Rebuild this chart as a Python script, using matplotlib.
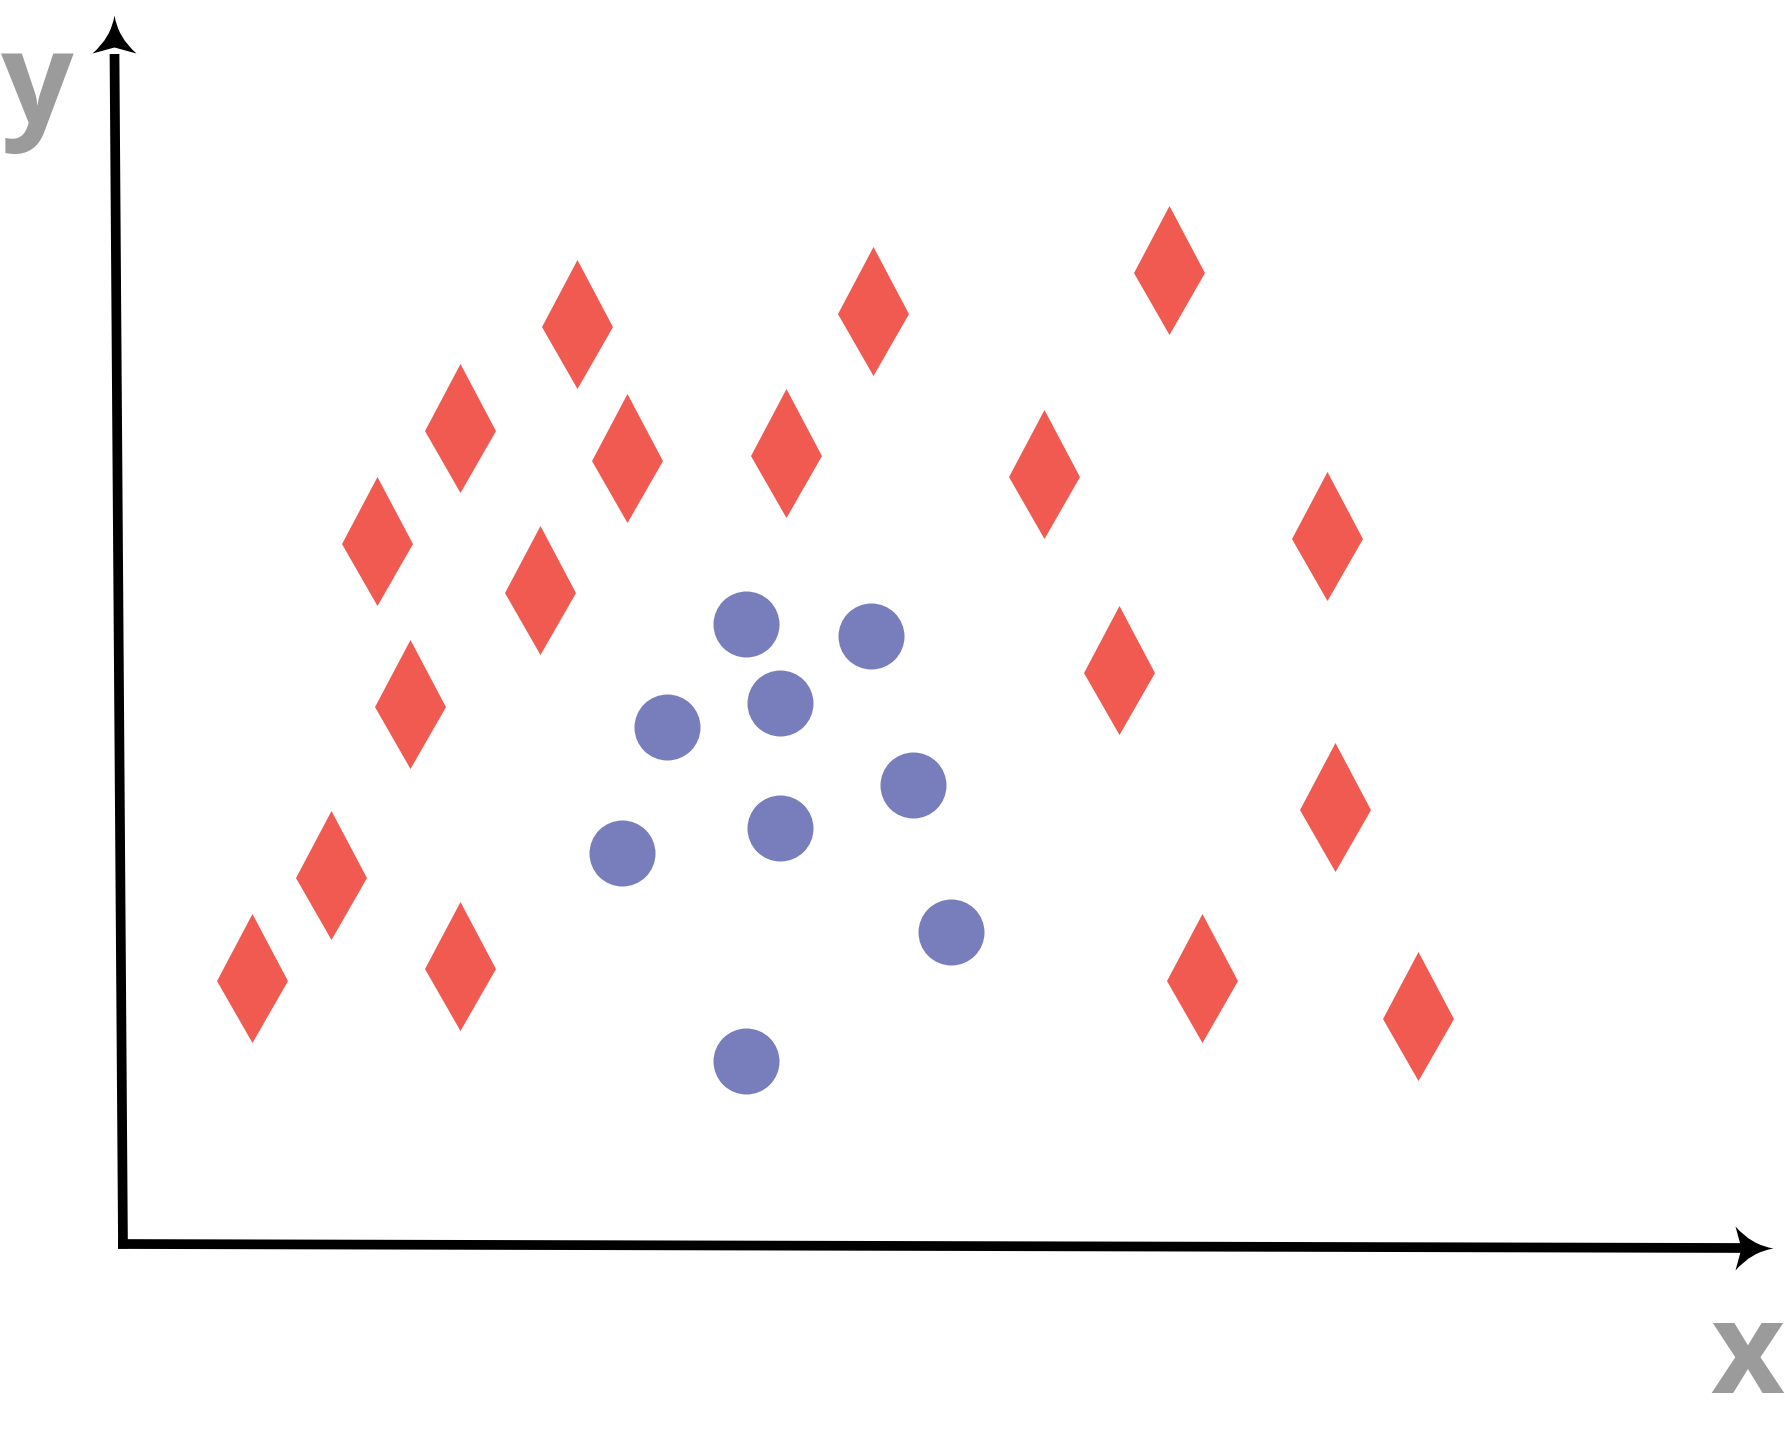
import numpy as np
import matplotlib
matplotlib.use("Agg")
import matplotlib.pyplot as plt
from matplotlib.path import Path
from matplotlib.markers import MarkerStyle
from matplotlib.transforms import Affine2D

# class A (red diamonds)
diamond_x = [1.29, 2.08, 3.37, 2.87, 2.54, 3.37, 4.17, 4.54, 5.04,
             6.63, 7.50, 9.21, 10.46, 9.96, 12.04, 12.12, 10.79, 12.95]
diamond_y = [2.66, 3.69, 2.78, 5.40, 7.03, 8.16, 6.54, 9.20, 7.86,
             7.91, 9.33, 7.70, 9.74, 5.74, 7.08, 4.37, 2.66, 2.28]

# class B (blue circles)
circle_x = [6.23, 7.48, 6.57, 5.44, 7.90, 6.57, 4.99, 8.28, 6.23]
circle_y = [6.20, 6.08, 5.41, 5.17, 4.59, 4.16, 3.91, 3.12, 1.83]

red = "#F05A50"
blue = "#787EBC"
grey = "#9B9B9B"

fig = plt.figure(figsize=(17.85, 14.37), dpi=100)
ax = fig.add_axes([0, 0, 1, 1])
ax.set_xlim(-1.23, 16.62)
ax.set_ylim(-1.93, 12.44)
ax.axis("off")

# thin diamond marker (widest point a bit below the middle)
diamond = Path([(0, 0.5), (0.275, -0.02), (0, -0.5), (-0.275, -0.02), (0, 0.5)],
               [Path.MOVETO, Path.LINETO, Path.LINETO, Path.LINETO, Path.CLOSEPOLY])
ax.plot(diamond_x, diamond_y, ls="none", marker=diamond, ms=129 * 0.72,
        color=red, mew=0)
ax.plot(circle_x, circle_y, ls="none", marker="o", ms=66 * 0.72,
        color=blue, mew=0)

# axis lines
ax.plot([0, -0.085], [-0.045, 11.9], color="black", lw=7.0, solid_capstyle="butt")
ax.plot([-0.05, 16.2], [0, -0.04], color="black", lw=7.0, solid_capstyle="butt")

# arrow heads with concave sides
head = Path([(0, 0.5), (-0.08, 0.0), (-0.5, -0.364), (0, -0.227),
             (0.5, -0.364), (0.08, 0.0), (0, 0.5), (0, 0.5)],
            [Path.MOVETO, Path.CURVE3, Path.CURVE3, Path.LINETO,
             Path.LINETO, Path.CURVE3, Path.CURVE3, Path.CLOSEPOLY])
ax.plot([-0.09], [12.07], marker=MarkerStyle(head), ms=44 * 0.72,
        color="black", mew=0)
ax.plot([16.28], [-0.04], marker=MarkerStyle(head, transform=Affine2D().rotate_deg(-90)),
        ms=44 * 0.72, color="black", mew=0)

ax.text(-0.86, 11.21, "y", color=grey, fontsize=92, fontweight="bold",
        family="Open Sans", ha="center", va="baseline")
ax.text(16.24, -1.49, "x", color=grey, fontsize=92, fontweight="bold",
        family="Open Sans", ha="center", va="baseline")

plt.savefig("out.png", dpi=100)
